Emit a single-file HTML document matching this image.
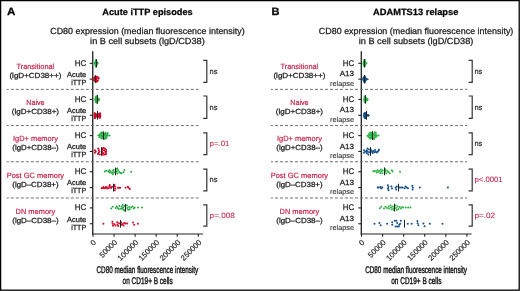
<!DOCTYPE html>
<html><head><meta charset="utf-8"><style>
html,body{margin:0;padding:0;background:#fff;}
#c{position:relative;width:520px;height:291px;overflow:hidden;background:#fff;}
svg{position:absolute;left:0;top:0;will-change:transform;}
text{font-family:"Liberation Sans",sans-serif;text-rendering:geometricPrecision;}
</style></head><body><div id="c">
<svg width="520" height="291" viewBox="0 0 520 291">
<rect x="0.6" y="0.6" width="518.6" height="289.6" fill="none" stroke="#000" stroke-width="1.3"/>
<line x1="92.75" y1="51.2" x2="92.75" y2="234.6" stroke="#222" stroke-width="1.3"/>
<line x1="92.15" y1="234.0" x2="202.95" y2="234.0" stroke="#222" stroke-width="1.2"/>
<line x1="92.95" y1="234" x2="92.95" y2="236.8" stroke="#222" stroke-width="1.1"/>
<line x1="114.03" y1="234" x2="114.03" y2="236.8" stroke="#222" stroke-width="1.1"/>
<line x1="135.11" y1="234" x2="135.11" y2="236.8" stroke="#222" stroke-width="1.1"/>
<line x1="156.19" y1="234" x2="156.19" y2="236.8" stroke="#222" stroke-width="1.1"/>
<line x1="177.27" y1="234" x2="177.27" y2="236.8" stroke="#222" stroke-width="1.1"/>
<line x1="198.35" y1="234" x2="198.35" y2="236.8" stroke="#222" stroke-width="1.1"/>
<line x1="6.80" y1="89.37" x2="198.60" y2="89.37" stroke="#707070" stroke-width="1" stroke-dasharray="3 2" stroke-dashoffset="1"/>
<line x1="6.80" y1="125.57" x2="198.60" y2="125.57" stroke="#707070" stroke-width="1" stroke-dasharray="3 2" stroke-dashoffset="1"/>
<line x1="6.80" y1="161.77" x2="198.60" y2="161.77" stroke="#707070" stroke-width="1" stroke-dasharray="3 2" stroke-dashoffset="1"/>
<line x1="6.80" y1="197.97" x2="198.60" y2="197.97" stroke="#707070" stroke-width="1" stroke-dasharray="3 2" stroke-dashoffset="1"/>
<line x1="89.75" y1="63.30" x2="92.75" y2="63.30" stroke="#222" stroke-width="1.1"/>
<line x1="89.75" y1="79.15" x2="92.75" y2="79.15" stroke="#222" stroke-width="1.1"/>
<line x1="89.75" y1="99.45" x2="92.75" y2="99.45" stroke="#222" stroke-width="1.1"/>
<line x1="89.75" y1="115.30" x2="92.75" y2="115.30" stroke="#222" stroke-width="1.1"/>
<line x1="89.75" y1="135.60" x2="92.75" y2="135.60" stroke="#222" stroke-width="1.1"/>
<line x1="89.75" y1="151.45" x2="92.75" y2="151.45" stroke="#222" stroke-width="1.1"/>
<line x1="89.75" y1="171.75" x2="92.75" y2="171.75" stroke="#222" stroke-width="1.1"/>
<line x1="89.75" y1="187.60" x2="92.75" y2="187.60" stroke="#222" stroke-width="1.1"/>
<line x1="89.75" y1="207.90" x2="92.75" y2="207.90" stroke="#222" stroke-width="1.1"/>
<line x1="89.75" y1="223.75" x2="92.75" y2="223.75" stroke="#222" stroke-width="1.1"/>
<line x1="361.30" y1="51.2" x2="361.30" y2="234.6" stroke="#222" stroke-width="1.3"/>
<line x1="360.70" y1="234.0" x2="471.50" y2="234.0" stroke="#222" stroke-width="1.2"/>
<line x1="361.50" y1="234" x2="361.50" y2="236.8" stroke="#222" stroke-width="1.1"/>
<line x1="382.58" y1="234" x2="382.58" y2="236.8" stroke="#222" stroke-width="1.1"/>
<line x1="403.66" y1="234" x2="403.66" y2="236.8" stroke="#222" stroke-width="1.1"/>
<line x1="424.74" y1="234" x2="424.74" y2="236.8" stroke="#222" stroke-width="1.1"/>
<line x1="445.82" y1="234" x2="445.82" y2="236.8" stroke="#222" stroke-width="1.1"/>
<line x1="466.90" y1="234" x2="466.90" y2="236.8" stroke="#222" stroke-width="1.1"/>
<line x1="271.00" y1="89.37" x2="467.15" y2="89.37" stroke="#707070" stroke-width="1" stroke-dasharray="3 2" stroke-dashoffset="1"/>
<line x1="271.00" y1="125.57" x2="467.15" y2="125.57" stroke="#707070" stroke-width="1" stroke-dasharray="3 2" stroke-dashoffset="1"/>
<line x1="271.00" y1="161.77" x2="467.15" y2="161.77" stroke="#707070" stroke-width="1" stroke-dasharray="3 2" stroke-dashoffset="1"/>
<line x1="271.00" y1="197.97" x2="467.15" y2="197.97" stroke="#707070" stroke-width="1" stroke-dasharray="3 2" stroke-dashoffset="1"/>
<line x1="358.30" y1="63.30" x2="361.30" y2="63.30" stroke="#222" stroke-width="1.1"/>
<line x1="358.30" y1="79.15" x2="361.30" y2="79.15" stroke="#222" stroke-width="1.1"/>
<line x1="358.30" y1="99.45" x2="361.30" y2="99.45" stroke="#222" stroke-width="1.1"/>
<line x1="358.30" y1="115.30" x2="361.30" y2="115.30" stroke="#222" stroke-width="1.1"/>
<line x1="358.30" y1="135.60" x2="361.30" y2="135.60" stroke="#222" stroke-width="1.1"/>
<line x1="358.30" y1="151.45" x2="361.30" y2="151.45" stroke="#222" stroke-width="1.1"/>
<line x1="358.30" y1="171.75" x2="361.30" y2="171.75" stroke="#222" stroke-width="1.1"/>
<line x1="358.30" y1="187.60" x2="361.30" y2="187.60" stroke="#222" stroke-width="1.1"/>
<line x1="358.30" y1="207.90" x2="361.30" y2="207.90" stroke="#222" stroke-width="1.1"/>
<line x1="358.30" y1="223.75" x2="361.30" y2="223.75" stroke="#222" stroke-width="1.1"/>
<path d="M93.80 63.30 L94.60 61.30 L95.20 59.30 L97.00 59.30 L97.40 61.60 L99.00 63.30 L97.40 65.00 L97.00 67.50 L95.20 67.50 L94.60 65.30 Z" fill="#26aa42" fill-opacity="1.0"/>
<line x1="96.50" y1="59.20" x2="96.50" y2="67.40" stroke="#222" stroke-width="1.0"/>
<path d="M92.40 78.15 L93.50 77.15 L94.60 76.05 L95.40 75.35 L96.20 75.65 L97.40 76.05 L98.60 76.75 L99.60 77.65 L99.90 78.55 L99.00 79.35 L98.30 79.75 L98.80 80.65 L98.40 81.75 L97.20 82.25 L96.20 82.95 L95.40 82.95 L94.60 81.95 L93.50 81.05 L92.40 80.35 Z" fill="#cc0a2a" fill-opacity="1.0"/>
<circle cx="97.5" cy="79.05" r="0.55" fill="#fff" fill-opacity="0.8"/>
<line x1="95.50" y1="75.25" x2="95.50" y2="83.05" stroke="#222" stroke-width="1.0"/>
<path d="M94.30 99.45 L94.80 96.95 L95.80 95.45 L97.40 94.95 L97.60 97.55 L99.20 97.95 L100.30 99.55 L99.20 101.15 L97.60 101.55 L97.40 103.65 L95.80 103.45 L94.80 101.95 Z" fill="#26aa42" fill-opacity="1.0"/>
<line x1="97.50" y1="95.15" x2="97.50" y2="103.75" stroke="#222" stroke-width="1.0"/>
<path d="M93.90 112.10 L95.50 112.60 L97.40 114.30 L99.00 112.60 L101.00 112.60 L101.30 115.30 L101.00 118.40 L99.00 118.70 L97.40 116.50 L95.50 118.90 L93.90 119.00 L93.60 115.30 Z" fill="#cc0a2a" fill-opacity="1.0"/>
<line x1="97.50" y1="110.90" x2="97.50" y2="119.70" stroke="#222" stroke-width="1.0"/>
<circle cx="98.31" cy="135.43" r="1.0" fill="#26aa42"/>
<circle cx="99.85" cy="135.39" r="1.0" fill="#26aa42"/>
<circle cx="101.16" cy="135.53" r="1.0" fill="#26aa42"/>
<circle cx="102.29" cy="135.60" r="1.0" fill="#26aa42"/>
<circle cx="103.65" cy="135.57" r="1.0" fill="#26aa42"/>
<circle cx="105.04" cy="135.40" r="1.0" fill="#26aa42"/>
<circle cx="106.59" cy="135.76" r="1.0" fill="#26aa42"/>
<circle cx="107.81" cy="135.46" r="1.0" fill="#26aa42"/>
<circle cx="99.86" cy="134.32" r="1.0" fill="#26aa42"/>
<circle cx="101.32" cy="134.05" r="1.0" fill="#26aa42"/>
<circle cx="103.00" cy="133.87" r="1.0" fill="#26aa42"/>
<circle cx="104.42" cy="133.99" r="1.0" fill="#26aa42"/>
<circle cx="105.54" cy="133.91" r="1.0" fill="#26aa42"/>
<circle cx="107.10" cy="134.26" r="1.0" fill="#26aa42"/>
<circle cx="99.44" cy="137.14" r="1.0" fill="#26aa42"/>
<circle cx="101.11" cy="137.04" r="1.0" fill="#26aa42"/>
<circle cx="102.50" cy="136.88" r="1.0" fill="#26aa42"/>
<circle cx="103.70" cy="136.95" r="1.0" fill="#26aa42"/>
<circle cx="105.45" cy="137.06" r="1.0" fill="#26aa42"/>
<circle cx="106.71" cy="137.14" r="1.0" fill="#26aa42"/>
<circle cx="101.18" cy="132.60" r="1.0" fill="#26aa42"/>
<circle cx="102.75" cy="132.80" r="1.0" fill="#26aa42"/>
<circle cx="105.47" cy="132.74" r="1.0" fill="#26aa42"/>
<circle cx="107.61" cy="132.89" r="1.0" fill="#26aa42"/>
<circle cx="101.51" cy="138.39" r="1.0" fill="#26aa42"/>
<circle cx="103.04" cy="138.31" r="1.0" fill="#26aa42"/>
<circle cx="104.56" cy="138.63" r="1.0" fill="#26aa42"/>
<circle cx="105.83" cy="138.49" r="1.0" fill="#26aa42"/>
<circle cx="109.50" cy="135.40" r="1.0" fill="#26aa42"/>
<line x1="103.50" y1="131.40" x2="103.50" y2="139.80" stroke="#222" stroke-width="1.0"/>
<circle cx="94.90" cy="150.25" r="1.0" fill="#cc0a2a"/>
<circle cx="95.80" cy="151.45" r="1.0" fill="#cc0a2a"/>
<circle cx="94.90" cy="152.65" r="1.0" fill="#cc0a2a"/>
<circle cx="98.20" cy="148.45" r="1.0" fill="#cc0a2a"/>
<circle cx="98.80" cy="150.05" r="1.0" fill="#cc0a2a"/>
<circle cx="99.40" cy="151.45" r="1.0" fill="#cc0a2a"/>
<circle cx="98.60" cy="152.75" r="1.0" fill="#cc0a2a"/>
<circle cx="98.00" cy="154.05" r="1.0" fill="#cc0a2a"/>
<circle cx="99.80" cy="154.45" r="1.0" fill="#cc0a2a"/>
<circle cx="102.20" cy="148.45" r="1.0" fill="#cc0a2a"/>
<circle cx="103.60" cy="148.05" r="1.0" fill="#cc0a2a"/>
<circle cx="105.00" cy="148.65" r="1.0" fill="#cc0a2a"/>
<circle cx="106.00" cy="149.85" r="1.0" fill="#cc0a2a"/>
<circle cx="106.30" cy="151.45" r="1.0" fill="#cc0a2a"/>
<circle cx="105.80" cy="152.95" r="1.0" fill="#cc0a2a"/>
<circle cx="106.00" cy="154.25" r="1.0" fill="#cc0a2a"/>
<circle cx="104.60" cy="154.55" r="1.0" fill="#cc0a2a"/>
<circle cx="103.00" cy="154.65" r="1.0" fill="#cc0a2a"/>
<circle cx="102.00" cy="153.45" r="1.0" fill="#cc0a2a"/>
<circle cx="102.00" cy="151.85" r="1.0" fill="#cc0a2a"/>
<circle cx="102.30" cy="149.95" r="1.0" fill="#cc0a2a"/>
<circle cx="104.00" cy="150.15" r="1.0" fill="#cc0a2a"/>
<circle cx="105.20" cy="151.75" r="1.0" fill="#cc0a2a"/>
<circle cx="103.20" cy="153.05" r="1.0" fill="#cc0a2a"/>
<line x1="101.50" y1="147.15" x2="101.50" y2="155.75" stroke="#222" stroke-width="1.0"/>
<circle cx="104.70" cy="171.55" r="1.0" fill="#26aa42"/>
<circle cx="106.20" cy="170.85" r="1.0" fill="#26aa42"/>
<circle cx="108.30" cy="171.45" r="1.0" fill="#26aa42"/>
<circle cx="109.20" cy="170.25" r="1.0" fill="#26aa42"/>
<circle cx="109.60" cy="172.45" r="1.0" fill="#26aa42"/>
<circle cx="110.60" cy="171.35" r="1.0" fill="#26aa42"/>
<circle cx="112.30" cy="172.65" r="1.0" fill="#26aa42"/>
<circle cx="113.00" cy="170.85" r="1.0" fill="#26aa42"/>
<circle cx="113.00" cy="174.35" r="1.0" fill="#26aa42"/>
<circle cx="114.20" cy="172.35" r="1.0" fill="#26aa42"/>
<circle cx="113.60" cy="170.05" r="1.0" fill="#26aa42"/>
<circle cx="116.40" cy="169.05" r="1.0" fill="#26aa42"/>
<circle cx="116.80" cy="171.35" r="1.0" fill="#26aa42"/>
<circle cx="117.50" cy="173.45" r="1.0" fill="#26aa42"/>
<circle cx="118.20" cy="170.35" r="1.0" fill="#26aa42"/>
<circle cx="119.20" cy="172.05" r="1.0" fill="#26aa42"/>
<circle cx="120.30" cy="172.65" r="1.0" fill="#26aa42"/>
<circle cx="121.60" cy="173.25" r="1.0" fill="#26aa42"/>
<circle cx="123.60" cy="172.35" r="1.0" fill="#26aa42"/>
<circle cx="124.30" cy="170.05" r="1.0" fill="#26aa42"/>
<circle cx="131.10" cy="171.75" r="1.0" fill="#26aa42"/>
<circle cx="111.60" cy="173.05" r="1.0" fill="#26aa42"/>
<circle cx="115.90" cy="172.95" r="1.0" fill="#26aa42"/>
<circle cx="117.20" cy="168.45" r="1.0" fill="#26aa42"/>
<line x1="115.50" y1="167.55" x2="115.50" y2="175.35" stroke="#222" stroke-width="1.0"/>
<circle cx="101.60" cy="188.30" r="1.0" fill="#cc0a2a"/>
<circle cx="102.40" cy="187.90" r="1.0" fill="#cc0a2a"/>
<circle cx="103.40" cy="187.10" r="1.0" fill="#cc0a2a"/>
<circle cx="104.00" cy="188.30" r="1.0" fill="#cc0a2a"/>
<circle cx="105.00" cy="188.30" r="1.0" fill="#cc0a2a"/>
<circle cx="105.80" cy="186.90" r="1.0" fill="#cc0a2a"/>
<circle cx="106.80" cy="187.30" r="1.0" fill="#cc0a2a"/>
<circle cx="107.20" cy="188.50" r="1.0" fill="#cc0a2a"/>
<circle cx="108.60" cy="188.20" r="1.0" fill="#cc0a2a"/>
<circle cx="109.20" cy="186.30" r="1.0" fill="#cc0a2a"/>
<circle cx="109.80" cy="184.90" r="1.0" fill="#cc0a2a"/>
<circle cx="110.20" cy="187.20" r="1.0" fill="#cc0a2a"/>
<circle cx="111.20" cy="188.10" r="1.0" fill="#cc0a2a"/>
<circle cx="112.00" cy="186.70" r="1.0" fill="#cc0a2a"/>
<circle cx="114.50" cy="184.90" r="1.0" fill="#cc0a2a"/>
<circle cx="115.00" cy="186.70" r="1.0" fill="#cc0a2a"/>
<circle cx="115.30" cy="188.50" r="1.0" fill="#cc0a2a"/>
<circle cx="114.80" cy="190.20" r="1.0" fill="#cc0a2a"/>
<circle cx="117.80" cy="187.70" r="1.0" fill="#cc0a2a"/>
<circle cx="119.00" cy="187.70" r="1.0" fill="#cc0a2a"/>
<circle cx="120.20" cy="187.70" r="1.0" fill="#cc0a2a"/>
<circle cx="125.60" cy="187.70" r="1.0" fill="#cc0a2a"/>
<circle cx="127.80" cy="186.70" r="1.0" fill="#cc0a2a"/>
<circle cx="128.60" cy="187.70" r="1.0" fill="#cc0a2a"/>
<circle cx="129.80" cy="188.90" r="1.0" fill="#cc0a2a"/>
<line x1="113.50" y1="183.70" x2="113.50" y2="191.50" stroke="#222" stroke-width="1.0"/>
<circle cx="111.20" cy="208.50" r="1.0" fill="#26aa42"/>
<circle cx="112.60" cy="206.80" r="1.0" fill="#26aa42"/>
<circle cx="115.60" cy="207.90" r="1.0" fill="#26aa42"/>
<circle cx="116.80" cy="206.50" r="1.0" fill="#26aa42"/>
<circle cx="117.60" cy="208.10" r="1.0" fill="#26aa42"/>
<circle cx="118.80" cy="208.90" r="1.0" fill="#26aa42"/>
<circle cx="119.40" cy="206.10" r="1.0" fill="#26aa42"/>
<circle cx="121.60" cy="206.70" r="1.0" fill="#26aa42"/>
<circle cx="122.30" cy="208.70" r="1.0" fill="#26aa42"/>
<circle cx="122.60" cy="205.10" r="1.0" fill="#26aa42"/>
<circle cx="123.20" cy="207.50" r="1.0" fill="#26aa42"/>
<circle cx="123.80" cy="210.00" r="1.0" fill="#26aa42"/>
<circle cx="124.40" cy="206.00" r="1.0" fill="#26aa42"/>
<circle cx="124.60" cy="210.50" r="1.0" fill="#26aa42"/>
<circle cx="127.00" cy="205.50" r="1.0" fill="#26aa42"/>
<circle cx="127.40" cy="207.90" r="1.0" fill="#26aa42"/>
<circle cx="128.20" cy="209.70" r="1.0" fill="#26aa42"/>
<circle cx="129.20" cy="206.90" r="1.0" fill="#26aa42"/>
<circle cx="129.80" cy="209.30" r="1.0" fill="#26aa42"/>
<circle cx="131.20" cy="207.50" r="1.0" fill="#26aa42"/>
<circle cx="132.60" cy="206.50" r="1.0" fill="#26aa42"/>
<circle cx="133.80" cy="208.50" r="1.0" fill="#26aa42"/>
<circle cx="134.60" cy="207.50" r="1.0" fill="#26aa42"/>
<circle cx="138.00" cy="207.60" r="1.0" fill="#26aa42"/>
<circle cx="142.00" cy="207.60" r="1.0" fill="#26aa42"/>
<circle cx="121.00" cy="208.80" r="1.0" fill="#26aa42"/>
<line x1="125.50" y1="204.00" x2="125.50" y2="211.80" stroke="#222" stroke-width="1.0"/>
<circle cx="103.40" cy="223.75" r="1.0" fill="#cc0a2a"/>
<circle cx="112.40" cy="221.75" r="1.0" fill="#cc0a2a"/>
<circle cx="112.60" cy="223.75" r="1.0" fill="#cc0a2a"/>
<circle cx="113.00" cy="225.75" r="1.0" fill="#cc0a2a"/>
<circle cx="114.40" cy="224.25" r="1.0" fill="#cc0a2a"/>
<circle cx="115.60" cy="225.55" r="1.0" fill="#cc0a2a"/>
<circle cx="117.20" cy="222.25" r="1.0" fill="#cc0a2a"/>
<circle cx="117.60" cy="224.55" r="1.0" fill="#cc0a2a"/>
<circle cx="118.20" cy="225.95" r="1.0" fill="#cc0a2a"/>
<circle cx="119.00" cy="223.15" r="1.0" fill="#cc0a2a"/>
<circle cx="121.20" cy="222.55" r="1.0" fill="#cc0a2a"/>
<circle cx="121.60" cy="224.75" r="1.0" fill="#cc0a2a"/>
<circle cx="122.60" cy="223.95" r="1.0" fill="#cc0a2a"/>
<circle cx="123.60" cy="225.55" r="1.0" fill="#cc0a2a"/>
<circle cx="124.20" cy="222.95" r="1.0" fill="#cc0a2a"/>
<circle cx="125.60" cy="223.45" r="1.0" fill="#cc0a2a"/>
<circle cx="127.20" cy="223.45" r="1.0" fill="#cc0a2a"/>
<circle cx="133.00" cy="222.55" r="1.0" fill="#cc0a2a"/>
<circle cx="134.20" cy="224.75" r="1.0" fill="#cc0a2a"/>
<circle cx="137.90" cy="223.75" r="1.0" fill="#cc0a2a"/>
<line x1="120.50" y1="219.85" x2="120.50" y2="227.65" stroke="#222" stroke-width="1.0"/>
<path d="M362.40 63.30 L363.00 61.10 L363.80 59.00 L365.60 59.00 L366.00 61.50 L367.70 63.30 L366.00 65.10 L365.60 67.20 L363.80 67.20 L363.00 65.50 Z" fill="#2fb446" fill-opacity="1.0"/>
<line x1="364.50" y1="59.20" x2="364.50" y2="67.40" stroke="#222" stroke-width="1.0"/>
<path d="M361.90 79.15 L362.80 77.35 L364.00 75.55 L365.50 75.55 L366.30 77.65 L369.10 79.15 L366.30 80.65 L365.50 83.35 L364.00 83.35 L362.80 80.95 Z" fill="#14508c" fill-opacity="1.0"/>
<line x1="364.50" y1="75.05" x2="364.50" y2="83.25" stroke="#222" stroke-width="1.0"/>
<path d="M363.20 99.45 L363.60 96.95 L364.40 95.25 L366.00 95.25 L366.30 97.55 L367.80 97.95 L368.90 99.45 L367.80 101.05 L366.30 101.45 L366.00 103.25 L364.40 103.25 L363.60 101.95 Z" fill="#2fb446" fill-opacity="1.0"/>
<line x1="365.50" y1="95.25" x2="365.50" y2="103.65" stroke="#222" stroke-width="1.0"/>
<path d="M363.00 115.10 L363.40 112.90 L364.60 111.90 L366.00 112.10 L366.40 113.90 L368.60 114.00 L370.00 115.40 L368.60 116.70 L366.40 116.60 L366.00 118.90 L364.60 119.10 L363.40 117.70 Z" fill="#14508c" fill-opacity="1.0"/>
<line x1="366.50" y1="110.90" x2="366.50" y2="119.70" stroke="#222" stroke-width="1.0"/>
<circle cx="367.42" cy="135.67" r="1.0" fill="#2fb446"/>
<circle cx="369.05" cy="135.63" r="1.0" fill="#2fb446"/>
<circle cx="370.44" cy="135.53" r="1.0" fill="#2fb446"/>
<circle cx="371.71" cy="135.64" r="1.0" fill="#2fb446"/>
<circle cx="373.00" cy="135.58" r="1.0" fill="#2fb446"/>
<circle cx="374.45" cy="135.78" r="1.0" fill="#2fb446"/>
<circle cx="375.65" cy="135.67" r="1.0" fill="#2fb446"/>
<circle cx="376.82" cy="135.68" r="1.0" fill="#2fb446"/>
<circle cx="368.86" cy="134.30" r="1.0" fill="#2fb446"/>
<circle cx="370.33" cy="134.01" r="1.0" fill="#2fb446"/>
<circle cx="371.55" cy="134.17" r="1.0" fill="#2fb446"/>
<circle cx="373.01" cy="134.08" r="1.0" fill="#2fb446"/>
<circle cx="374.57" cy="133.95" r="1.0" fill="#2fb446"/>
<circle cx="376.02" cy="134.21" r="1.0" fill="#2fb446"/>
<circle cx="368.45" cy="137.00" r="1.0" fill="#2fb446"/>
<circle cx="370.16" cy="137.25" r="1.0" fill="#2fb446"/>
<circle cx="371.63" cy="137.08" r="1.0" fill="#2fb446"/>
<circle cx="373.02" cy="137.25" r="1.0" fill="#2fb446"/>
<circle cx="374.63" cy="137.25" r="1.0" fill="#2fb446"/>
<circle cx="375.91" cy="137.07" r="1.0" fill="#2fb446"/>
<circle cx="369.74" cy="132.75" r="1.0" fill="#2fb446"/>
<circle cx="371.18" cy="132.46" r="1.0" fill="#2fb446"/>
<circle cx="374.47" cy="132.49" r="1.0" fill="#2fb446"/>
<circle cx="375.69" cy="132.59" r="1.0" fill="#2fb446"/>
<circle cx="370.04" cy="138.51" r="1.0" fill="#2fb446"/>
<circle cx="371.00" cy="138.57" r="1.0" fill="#2fb446"/>
<circle cx="373.95" cy="138.63" r="1.0" fill="#2fb446"/>
<circle cx="374.18" cy="138.68" r="1.0" fill="#2fb446"/>
<circle cx="378.60" cy="135.40" r="1.0" fill="#2fb446"/>
<line x1="372.50" y1="131.20" x2="372.50" y2="140.00" stroke="#222" stroke-width="1.0"/>
<circle cx="364.00" cy="150.25" r="1.0" fill="#14508c"/>
<circle cx="365.20" cy="151.45" r="1.0" fill="#14508c"/>
<circle cx="364.00" cy="152.65" r="1.0" fill="#14508c"/>
<circle cx="366.20" cy="151.65" r="1.0" fill="#14508c"/>
<circle cx="367.50" cy="148.45" r="1.0" fill="#14508c"/>
<circle cx="366.80" cy="150.15" r="1.0" fill="#14508c"/>
<circle cx="367.60" cy="151.75" r="1.0" fill="#14508c"/>
<circle cx="366.80" cy="153.15" r="1.0" fill="#14508c"/>
<circle cx="368.40" cy="154.45" r="1.0" fill="#14508c"/>
<circle cx="369.00" cy="149.45" r="1.0" fill="#14508c"/>
<circle cx="369.20" cy="152.25" r="1.0" fill="#14508c"/>
<circle cx="371.40" cy="150.25" r="1.0" fill="#14508c"/>
<circle cx="372.00" cy="151.85" r="1.0" fill="#14508c"/>
<circle cx="372.60" cy="153.05" r="1.0" fill="#14508c"/>
<circle cx="373.40" cy="151.05" r="1.0" fill="#14508c"/>
<circle cx="374.20" cy="152.25" r="1.0" fill="#14508c"/>
<circle cx="375.00" cy="150.05" r="1.0" fill="#14508c"/>
<circle cx="375.60" cy="151.85" r="1.0" fill="#14508c"/>
<circle cx="376.60" cy="152.45" r="1.0" fill="#14508c"/>
<circle cx="377.60" cy="151.65" r="1.0" fill="#14508c"/>
<circle cx="378.40" cy="150.65" r="1.0" fill="#14508c"/>
<circle cx="379.00" cy="149.85" r="1.0" fill="#14508c"/>
<line x1="370.50" y1="147.05" x2="370.50" y2="155.85" stroke="#222" stroke-width="1.0"/>
<circle cx="373.20" cy="171.35" r="1.0" fill="#2fb446"/>
<circle cx="374.40" cy="171.35" r="1.0" fill="#2fb446"/>
<circle cx="376.00" cy="170.95" r="1.0" fill="#2fb446"/>
<circle cx="376.60" cy="172.55" r="1.0" fill="#2fb446"/>
<circle cx="377.60" cy="170.15" r="1.0" fill="#2fb446"/>
<circle cx="378.40" cy="171.75" r="1.0" fill="#2fb446"/>
<circle cx="379.60" cy="170.95" r="1.0" fill="#2fb446"/>
<circle cx="380.20" cy="172.95" r="1.0" fill="#2fb446"/>
<circle cx="381.00" cy="169.55" r="1.0" fill="#2fb446"/>
<circle cx="381.60" cy="171.55" r="1.0" fill="#2fb446"/>
<circle cx="382.40" cy="173.35" r="1.0" fill="#2fb446"/>
<circle cx="382.60" cy="170.35" r="1.0" fill="#2fb446"/>
<circle cx="385.00" cy="168.95" r="1.0" fill="#2fb446"/>
<circle cx="385.40" cy="171.55" r="1.0" fill="#2fb446"/>
<circle cx="386.20" cy="173.15" r="1.0" fill="#2fb446"/>
<circle cx="386.00" cy="170.35" r="1.0" fill="#2fb446"/>
<circle cx="387.60" cy="171.35" r="1.0" fill="#2fb446"/>
<circle cx="388.60" cy="172.15" r="1.0" fill="#2fb446"/>
<circle cx="389.80" cy="173.15" r="1.0" fill="#2fb446"/>
<circle cx="391.80" cy="170.15" r="1.0" fill="#2fb446"/>
<circle cx="392.60" cy="171.55" r="1.0" fill="#2fb446"/>
<circle cx="400.00" cy="171.65" r="1.0" fill="#2fb446"/>
<line x1="384.50" y1="167.45" x2="384.50" y2="175.25" stroke="#222" stroke-width="1.0"/>
<circle cx="377.70" cy="187.60" r="1.0" fill="#14508c"/>
<circle cx="378.80" cy="187.60" r="1.0" fill="#14508c"/>
<circle cx="380.60" cy="187.00" r="1.0" fill="#14508c"/>
<circle cx="381.20" cy="188.40" r="1.0" fill="#14508c"/>
<circle cx="382.20" cy="187.60" r="1.0" fill="#14508c"/>
<circle cx="387.80" cy="185.20" r="1.0" fill="#14508c"/>
<circle cx="388.40" cy="187.00" r="1.0" fill="#14508c"/>
<circle cx="388.00" cy="188.80" r="1.0" fill="#14508c"/>
<circle cx="388.60" cy="190.20" r="1.0" fill="#14508c"/>
<circle cx="391.40" cy="186.60" r="1.0" fill="#14508c"/>
<circle cx="392.00" cy="188.40" r="1.0" fill="#14508c"/>
<circle cx="395.60" cy="187.80" r="1.0" fill="#14508c"/>
<circle cx="396.20" cy="189.40" r="1.0" fill="#14508c"/>
<circle cx="396.80" cy="186.40" r="1.0" fill="#14508c"/>
<circle cx="399.80" cy="187.60" r="1.0" fill="#14508c"/>
<circle cx="401.20" cy="187.60" r="1.0" fill="#14508c"/>
<circle cx="402.60" cy="187.60" r="1.0" fill="#14508c"/>
<circle cx="404.60" cy="188.20" r="1.0" fill="#14508c"/>
<circle cx="405.60" cy="186.60" r="1.0" fill="#14508c"/>
<circle cx="406.80" cy="187.60" r="1.0" fill="#14508c"/>
<circle cx="408.00" cy="188.20" r="1.0" fill="#14508c"/>
<circle cx="412.40" cy="185.80" r="1.0" fill="#14508c"/>
<circle cx="412.80" cy="187.60" r="1.0" fill="#14508c"/>
<circle cx="412.60" cy="189.40" r="1.0" fill="#14508c"/>
<circle cx="419.80" cy="187.60" r="1.0" fill="#14508c"/>
<circle cx="447.90" cy="187.60" r="1.0" fill="#14508c"/>
<line x1="398.50" y1="183.70" x2="398.50" y2="191.50" stroke="#222" stroke-width="1.0"/>
<circle cx="379.90" cy="208.20" r="1.0" fill="#2fb446"/>
<circle cx="381.20" cy="206.80" r="1.0" fill="#2fb446"/>
<circle cx="384.00" cy="208.40" r="1.0" fill="#2fb446"/>
<circle cx="385.40" cy="206.80" r="1.0" fill="#2fb446"/>
<circle cx="387.00" cy="207.90" r="1.0" fill="#2fb446"/>
<circle cx="388.60" cy="206.60" r="1.0" fill="#2fb446"/>
<circle cx="389.20" cy="208.60" r="1.0" fill="#2fb446"/>
<circle cx="390.60" cy="205.40" r="1.0" fill="#2fb446"/>
<circle cx="391.00" cy="207.60" r="1.0" fill="#2fb446"/>
<circle cx="391.80" cy="209.60" r="1.0" fill="#2fb446"/>
<circle cx="392.80" cy="206.60" r="1.0" fill="#2fb446"/>
<circle cx="393.40" cy="208.60" r="1.0" fill="#2fb446"/>
<circle cx="395.60" cy="205.60" r="1.0" fill="#2fb446"/>
<circle cx="396.00" cy="208.00" r="1.0" fill="#2fb446"/>
<circle cx="396.80" cy="210.00" r="1.0" fill="#2fb446"/>
<circle cx="397.60" cy="206.40" r="1.0" fill="#2fb446"/>
<circle cx="398.40" cy="209.00" r="1.0" fill="#2fb446"/>
<circle cx="399.60" cy="207.00" r="1.0" fill="#2fb446"/>
<circle cx="400.80" cy="208.40" r="1.0" fill="#2fb446"/>
<circle cx="402.00" cy="207.20" r="1.0" fill="#2fb446"/>
<circle cx="403.20" cy="207.60" r="1.0" fill="#2fb446"/>
<circle cx="405.80" cy="207.60" r="1.0" fill="#2fb446"/>
<circle cx="408.20" cy="207.60" r="1.0" fill="#2fb446"/>
<circle cx="410.40" cy="207.60" r="1.0" fill="#2fb446"/>
<circle cx="394.00" cy="210.00" r="1.0" fill="#2fb446"/>
<line x1="394.50" y1="203.70" x2="394.50" y2="211.50" stroke="#222" stroke-width="1.0"/>
<circle cx="374.50" cy="223.75" r="1.0" fill="#14508c"/>
<circle cx="379.40" cy="222.95" r="1.0" fill="#14508c"/>
<circle cx="380.60" cy="225.15" r="1.0" fill="#14508c"/>
<circle cx="387.10" cy="223.75" r="1.0" fill="#14508c"/>
<circle cx="392.20" cy="222.35" r="1.0" fill="#14508c"/>
<circle cx="392.20" cy="224.75" r="1.0" fill="#14508c"/>
<circle cx="394.80" cy="220.85" r="1.0" fill="#14508c"/>
<circle cx="396.40" cy="220.85" r="1.0" fill="#14508c"/>
<circle cx="397.20" cy="222.95" r="1.0" fill="#14508c"/>
<circle cx="395.60" cy="226.55" r="1.0" fill="#14508c"/>
<circle cx="397.20" cy="226.55" r="1.0" fill="#14508c"/>
<circle cx="398.80" cy="226.55" r="1.0" fill="#14508c"/>
<circle cx="400.90" cy="220.85" r="1.0" fill="#14508c"/>
<circle cx="400.20" cy="223.75" r="1.0" fill="#14508c"/>
<circle cx="399.20" cy="224.75" r="1.0" fill="#14508c"/>
<circle cx="407.80" cy="223.75" r="1.0" fill="#14508c"/>
<circle cx="411.70" cy="223.75" r="1.0" fill="#14508c"/>
<circle cx="417.40" cy="220.95" r="1.0" fill="#14508c"/>
<circle cx="417.60" cy="223.25" r="1.0" fill="#14508c"/>
<circle cx="418.40" cy="225.15" r="1.0" fill="#14508c"/>
<circle cx="423.40" cy="223.55" r="1.0" fill="#14508c"/>
<circle cx="424.60" cy="226.35" r="1.0" fill="#14508c"/>
<circle cx="429.80" cy="223.75" r="1.0" fill="#14508c"/>
<circle cx="442.50" cy="223.75" r="1.0" fill="#14508c"/>
<line x1="404.50" y1="219.85" x2="404.50" y2="227.65" stroke="#222" stroke-width="1.0"/>
<text x="7.00" y="14.60" font-size="10.6" text-anchor="start" font-weight="bold" fill="#000" stroke="#000" stroke-width="0.25" textLength="8.40" lengthAdjust="spacingAndGlyphs">A</text>
<text x="271.60" y="14.90" font-size="10.6" text-anchor="start" font-weight="bold" fill="#000" stroke="#000" stroke-width="0.25" textLength="8.00" lengthAdjust="spacingAndGlyphs">B</text>
<text x="102.30" y="14.60" font-size="9.1" text-anchor="start" font-weight="bold" fill="#000" stroke="#000" stroke-width="0.25" textLength="90.40" lengthAdjust="spacingAndGlyphs">Acute iTTP episodes</text>
<text x="373.00" y="14.90" font-size="9.1" text-anchor="start" font-weight="bold" fill="#000" stroke="#000" stroke-width="0.25" textLength="85.40" lengthAdjust="spacingAndGlyphs">ADAMTS13 relapse</text>
<text x="50.20" y="33.70" font-size="8.8" text-anchor="start" font-weight="normal" fill="#1a1a1a" stroke="#1a1a1a" stroke-width="0.25" textLength="194.50" lengthAdjust="spacingAndGlyphs">CD80 expression (median fluorescence intensity)</text>
<text x="90.10" y="44.20" font-size="8.8" text-anchor="start" font-weight="normal" fill="#1a1a1a" stroke="#1a1a1a" stroke-width="0.25" textLength="114.60" lengthAdjust="spacingAndGlyphs">in B cell subsets (lgD/CD38)</text>
<text x="96.50" y="272.70" font-size="9.6" text-anchor="start" font-weight="normal" fill="#1a1a1a" stroke="#1a1a1a" stroke-width="0.45" textLength="101.80" lengthAdjust="spacingAndGlyphs">CD80 median fluorescence intensity</text>
<text x="122.60" y="283.60" font-size="9.6" text-anchor="start" font-weight="normal" fill="#1a1a1a" stroke="#1a1a1a" stroke-width="0.45" textLength="50.20" lengthAdjust="spacingAndGlyphs">on CD19+ B cells</text>
<text x="318.85" y="33.70" font-size="8.8" text-anchor="start" font-weight="normal" fill="#1a1a1a" stroke="#1a1a1a" stroke-width="0.25" textLength="194.50" lengthAdjust="spacingAndGlyphs">CD80 expression (median fluorescence intensity)</text>
<text x="358.75" y="44.20" font-size="8.8" text-anchor="start" font-weight="normal" fill="#1a1a1a" stroke="#1a1a1a" stroke-width="0.25" textLength="114.60" lengthAdjust="spacingAndGlyphs">in B cell subsets (lgD/CD38)</text>
<text x="365.15" y="272.70" font-size="9.6" text-anchor="start" font-weight="normal" fill="#1a1a1a" stroke="#1a1a1a" stroke-width="0.45" textLength="101.80" lengthAdjust="spacingAndGlyphs">CD80 median fluorescence intensity</text>
<text x="391.25" y="283.60" font-size="9.6" text-anchor="start" font-weight="normal" fill="#1a1a1a" stroke="#1a1a1a" stroke-width="0.45" textLength="50.20" lengthAdjust="spacingAndGlyphs">on CD19+ B cells</text>
<text x="35.40" y="69.05" font-size="7.6" text-anchor="middle" font-weight="normal" fill="#c41c44" stroke="#c41c44" stroke-width="0.18" textLength="37.70" lengthAdjust="spacingAndGlyphs">Transitional</text>
<text x="35.40" y="78.10" font-size="7.4" text-anchor="middle" font-weight="normal" fill="#1a1a1a" stroke="#1a1a1a" stroke-width="0.25" textLength="51.95" lengthAdjust="spacingAndGlyphs">(lgD+CD38++)</text>
<text x="299.40" y="69.05" font-size="7.6" text-anchor="middle" font-weight="normal" fill="#c41c44" stroke="#c41c44" stroke-width="0.18" textLength="37.70" lengthAdjust="spacingAndGlyphs">Transitional</text>
<text x="299.40" y="78.10" font-size="7.4" text-anchor="middle" font-weight="normal" fill="#1a1a1a" stroke="#1a1a1a" stroke-width="0.25" textLength="51.95" lengthAdjust="spacingAndGlyphs">(lgD+CD38++)</text>
<text x="86.20" y="65.50" font-size="8.3" text-anchor="end" font-weight="normal" fill="#1a1a1a" stroke="#1a1a1a" stroke-width="0.25" textLength="11.40" lengthAdjust="spacingAndGlyphs">HC</text>
<text x="86.20" y="76.90" font-size="7.4" text-anchor="end" font-weight="normal" fill="#1a1a1a" stroke="#1a1a1a" stroke-width="0.25" textLength="19.10" lengthAdjust="spacingAndGlyphs">Acute</text>
<text x="86.20" y="85.00" font-size="7.4" text-anchor="end" font-weight="normal" fill="#1a1a1a" stroke="#1a1a1a" stroke-width="0.25" textLength="15.00" lengthAdjust="spacingAndGlyphs">iTTP</text>
<text x="354.00" y="65.60" font-size="8.3" text-anchor="end" font-weight="normal" fill="#1a1a1a" stroke="#1a1a1a" stroke-width="0.25" textLength="11.20" lengthAdjust="spacingAndGlyphs">HC</text>
<text x="354.00" y="76.30" font-size="7.4" text-anchor="end" font-weight="normal" fill="#1a1a1a" stroke="#1a1a1a" stroke-width="0.25" textLength="14.30" lengthAdjust="spacingAndGlyphs">A13</text>
<text x="354.00" y="85.60" font-size="7.2" text-anchor="end" font-weight="normal" fill="#333" stroke="#333" stroke-width="0.1" textLength="24.00" lengthAdjust="spacingAndGlyphs">relapse</text>
<text x="35.40" y="105.20" font-size="7.6" text-anchor="middle" font-weight="normal" fill="#c41c44" stroke="#c41c44" stroke-width="0.18" textLength="18.35" lengthAdjust="spacingAndGlyphs">Naive</text>
<text x="35.40" y="114.25" font-size="7.4" text-anchor="middle" font-weight="normal" fill="#1a1a1a" stroke="#1a1a1a" stroke-width="0.25" textLength="47.30" lengthAdjust="spacingAndGlyphs">(lgD+CD38+)</text>
<text x="299.40" y="105.20" font-size="7.6" text-anchor="middle" font-weight="normal" fill="#c41c44" stroke="#c41c44" stroke-width="0.18" textLength="18.35" lengthAdjust="spacingAndGlyphs">Naive</text>
<text x="299.40" y="114.25" font-size="7.4" text-anchor="middle" font-weight="normal" fill="#1a1a1a" stroke="#1a1a1a" stroke-width="0.25" textLength="47.30" lengthAdjust="spacingAndGlyphs">(lgD+CD38+)</text>
<text x="86.20" y="101.65" font-size="8.3" text-anchor="end" font-weight="normal" fill="#1a1a1a" stroke="#1a1a1a" stroke-width="0.25" textLength="11.40" lengthAdjust="spacingAndGlyphs">HC</text>
<text x="86.20" y="113.05" font-size="7.4" text-anchor="end" font-weight="normal" fill="#1a1a1a" stroke="#1a1a1a" stroke-width="0.25" textLength="19.10" lengthAdjust="spacingAndGlyphs">Acute</text>
<text x="86.20" y="121.15" font-size="7.4" text-anchor="end" font-weight="normal" fill="#1a1a1a" stroke="#1a1a1a" stroke-width="0.25" textLength="15.00" lengthAdjust="spacingAndGlyphs">iTTP</text>
<text x="354.00" y="101.75" font-size="8.3" text-anchor="end" font-weight="normal" fill="#1a1a1a" stroke="#1a1a1a" stroke-width="0.25" textLength="11.20" lengthAdjust="spacingAndGlyphs">HC</text>
<text x="354.00" y="112.45" font-size="7.4" text-anchor="end" font-weight="normal" fill="#1a1a1a" stroke="#1a1a1a" stroke-width="0.25" textLength="14.30" lengthAdjust="spacingAndGlyphs">A13</text>
<text x="354.00" y="121.75" font-size="7.2" text-anchor="end" font-weight="normal" fill="#333" stroke="#333" stroke-width="0.1" textLength="24.00" lengthAdjust="spacingAndGlyphs">relapse</text>
<text x="35.40" y="141.35" font-size="7.6" text-anchor="middle" font-weight="normal" fill="#c41c44" stroke="#c41c44" stroke-width="0.18" textLength="44.95" lengthAdjust="spacingAndGlyphs">IgD+ memory</text>
<text x="35.40" y="150.40" font-size="7.4" text-anchor="middle" font-weight="normal" fill="#1a1a1a" stroke="#1a1a1a" stroke-width="0.25" textLength="46.30" lengthAdjust="spacingAndGlyphs">(lgD+CD38&#8211;)</text>
<text x="299.40" y="141.35" font-size="7.6" text-anchor="middle" font-weight="normal" fill="#c41c44" stroke="#c41c44" stroke-width="0.18" textLength="44.95" lengthAdjust="spacingAndGlyphs">IgD+ memory</text>
<text x="299.40" y="150.40" font-size="7.4" text-anchor="middle" font-weight="normal" fill="#1a1a1a" stroke="#1a1a1a" stroke-width="0.25" textLength="46.30" lengthAdjust="spacingAndGlyphs">(lgD+CD38&#8211;)</text>
<text x="86.20" y="137.80" font-size="8.3" text-anchor="end" font-weight="normal" fill="#1a1a1a" stroke="#1a1a1a" stroke-width="0.25" textLength="11.40" lengthAdjust="spacingAndGlyphs">HC</text>
<text x="86.20" y="149.20" font-size="7.4" text-anchor="end" font-weight="normal" fill="#1a1a1a" stroke="#1a1a1a" stroke-width="0.25" textLength="19.10" lengthAdjust="spacingAndGlyphs">Acute</text>
<text x="86.20" y="157.30" font-size="7.4" text-anchor="end" font-weight="normal" fill="#1a1a1a" stroke="#1a1a1a" stroke-width="0.25" textLength="15.00" lengthAdjust="spacingAndGlyphs">iTTP</text>
<text x="354.00" y="137.90" font-size="8.3" text-anchor="end" font-weight="normal" fill="#1a1a1a" stroke="#1a1a1a" stroke-width="0.25" textLength="11.20" lengthAdjust="spacingAndGlyphs">HC</text>
<text x="354.00" y="148.60" font-size="7.4" text-anchor="end" font-weight="normal" fill="#1a1a1a" stroke="#1a1a1a" stroke-width="0.25" textLength="14.30" lengthAdjust="spacingAndGlyphs">A13</text>
<text x="354.00" y="157.90" font-size="7.2" text-anchor="end" font-weight="normal" fill="#333" stroke="#333" stroke-width="0.1" textLength="24.00" lengthAdjust="spacingAndGlyphs">relapse</text>
<text x="35.40" y="177.50" font-size="7.6" text-anchor="middle" font-weight="normal" fill="#c41c44" stroke="#c41c44" stroke-width="0.18" textLength="57.45" lengthAdjust="spacingAndGlyphs">Post GC memory</text>
<text x="35.40" y="186.55" font-size="7.4" text-anchor="middle" font-weight="normal" fill="#1a1a1a" stroke="#1a1a1a" stroke-width="0.25" textLength="46.30" lengthAdjust="spacingAndGlyphs">(lgD&#8211;CD38+)</text>
<text x="299.40" y="177.50" font-size="7.6" text-anchor="middle" font-weight="normal" fill="#c41c44" stroke="#c41c44" stroke-width="0.18" textLength="57.45" lengthAdjust="spacingAndGlyphs">Post GC memory</text>
<text x="299.40" y="186.55" font-size="7.4" text-anchor="middle" font-weight="normal" fill="#1a1a1a" stroke="#1a1a1a" stroke-width="0.25" textLength="46.30" lengthAdjust="spacingAndGlyphs">(lgD&#8211;CD38+)</text>
<text x="86.20" y="173.95" font-size="8.3" text-anchor="end" font-weight="normal" fill="#1a1a1a" stroke="#1a1a1a" stroke-width="0.25" textLength="11.40" lengthAdjust="spacingAndGlyphs">HC</text>
<text x="86.20" y="185.35" font-size="7.4" text-anchor="end" font-weight="normal" fill="#1a1a1a" stroke="#1a1a1a" stroke-width="0.25" textLength="19.10" lengthAdjust="spacingAndGlyphs">Acute</text>
<text x="86.20" y="193.45" font-size="7.4" text-anchor="end" font-weight="normal" fill="#1a1a1a" stroke="#1a1a1a" stroke-width="0.25" textLength="15.00" lengthAdjust="spacingAndGlyphs">iTTP</text>
<text x="354.00" y="174.05" font-size="8.3" text-anchor="end" font-weight="normal" fill="#1a1a1a" stroke="#1a1a1a" stroke-width="0.25" textLength="11.20" lengthAdjust="spacingAndGlyphs">HC</text>
<text x="354.00" y="184.75" font-size="7.4" text-anchor="end" font-weight="normal" fill="#1a1a1a" stroke="#1a1a1a" stroke-width="0.25" textLength="14.30" lengthAdjust="spacingAndGlyphs">A13</text>
<text x="354.00" y="194.05" font-size="7.2" text-anchor="end" font-weight="normal" fill="#333" stroke="#333" stroke-width="0.1" textLength="24.00" lengthAdjust="spacingAndGlyphs">relapse</text>
<text x="35.40" y="213.65" font-size="7.6" text-anchor="middle" font-weight="normal" fill="#c41c44" stroke="#c41c44" stroke-width="0.18" textLength="39.70" lengthAdjust="spacingAndGlyphs">DN memory</text>
<text x="35.40" y="222.70" font-size="7.4" text-anchor="middle" font-weight="normal" fill="#1a1a1a" stroke="#1a1a1a" stroke-width="0.25" textLength="46.30" lengthAdjust="spacingAndGlyphs">(lgD&#8211;CD38&#8211;)</text>
<text x="299.40" y="213.65" font-size="7.6" text-anchor="middle" font-weight="normal" fill="#c41c44" stroke="#c41c44" stroke-width="0.18" textLength="39.70" lengthAdjust="spacingAndGlyphs">DN memory</text>
<text x="299.40" y="222.70" font-size="7.4" text-anchor="middle" font-weight="normal" fill="#1a1a1a" stroke="#1a1a1a" stroke-width="0.25" textLength="46.30" lengthAdjust="spacingAndGlyphs">(lgD&#8211;CD38&#8211;)</text>
<text x="86.20" y="210.10" font-size="8.3" text-anchor="end" font-weight="normal" fill="#1a1a1a" stroke="#1a1a1a" stroke-width="0.25" textLength="11.40" lengthAdjust="spacingAndGlyphs">HC</text>
<text x="86.20" y="221.50" font-size="7.4" text-anchor="end" font-weight="normal" fill="#1a1a1a" stroke="#1a1a1a" stroke-width="0.25" textLength="19.10" lengthAdjust="spacingAndGlyphs">Acute</text>
<text x="86.20" y="229.60" font-size="7.4" text-anchor="end" font-weight="normal" fill="#1a1a1a" stroke="#1a1a1a" stroke-width="0.25" textLength="15.00" lengthAdjust="spacingAndGlyphs">iTTP</text>
<text x="354.00" y="210.20" font-size="8.3" text-anchor="end" font-weight="normal" fill="#1a1a1a" stroke="#1a1a1a" stroke-width="0.25" textLength="11.20" lengthAdjust="spacingAndGlyphs">HC</text>
<text x="354.00" y="220.90" font-size="7.4" text-anchor="end" font-weight="normal" fill="#1a1a1a" stroke="#1a1a1a" stroke-width="0.25" textLength="14.30" lengthAdjust="spacingAndGlyphs">A13</text>
<text x="354.00" y="230.20" font-size="7.2" text-anchor="end" font-weight="normal" fill="#333" stroke="#333" stroke-width="0.1" textLength="24.00" lengthAdjust="spacingAndGlyphs">relapse</text>
<text x="96.60" y="243.00" font-size="7.7" text-anchor="end" font-weight="normal" fill="#1a1a1a" stroke="#1a1a1a" stroke-width="0.15" transform="rotate(-45 96.60 243.00)">0</text>
<text x="117.68" y="243.00" font-size="7.7" text-anchor="end" font-weight="normal" fill="#1a1a1a" stroke="#1a1a1a" stroke-width="0.15" transform="rotate(-45 117.68 243.00)">50000</text>
<text x="138.76" y="243.00" font-size="7.7" text-anchor="end" font-weight="normal" fill="#1a1a1a" stroke="#1a1a1a" stroke-width="0.15" transform="rotate(-45 138.76 243.00)">100000</text>
<text x="159.84" y="243.00" font-size="7.7" text-anchor="end" font-weight="normal" fill="#1a1a1a" stroke="#1a1a1a" stroke-width="0.15" transform="rotate(-45 159.84 243.00)">150000</text>
<text x="180.92" y="243.00" font-size="7.7" text-anchor="end" font-weight="normal" fill="#1a1a1a" stroke="#1a1a1a" stroke-width="0.15" transform="rotate(-45 180.92 243.00)">200000</text>
<text x="202.00" y="243.00" font-size="7.7" text-anchor="end" font-weight="normal" fill="#1a1a1a" stroke="#1a1a1a" stroke-width="0.15" transform="rotate(-45 202.00 243.00)">250000</text>
<text x="365.15" y="243.00" font-size="7.7" text-anchor="end" font-weight="normal" fill="#1a1a1a" stroke="#1a1a1a" stroke-width="0.15" transform="rotate(-45 365.15 243.00)">0</text>
<text x="386.23" y="243.00" font-size="7.7" text-anchor="end" font-weight="normal" fill="#1a1a1a" stroke="#1a1a1a" stroke-width="0.15" transform="rotate(-45 386.23 243.00)">50000</text>
<text x="407.31" y="243.00" font-size="7.7" text-anchor="end" font-weight="normal" fill="#1a1a1a" stroke="#1a1a1a" stroke-width="0.15" transform="rotate(-45 407.31 243.00)">100000</text>
<text x="428.39" y="243.00" font-size="7.7" text-anchor="end" font-weight="normal" fill="#1a1a1a" stroke="#1a1a1a" stroke-width="0.15" transform="rotate(-45 428.39 243.00)">150000</text>
<text x="449.47" y="243.00" font-size="7.7" text-anchor="end" font-weight="normal" fill="#1a1a1a" stroke="#1a1a1a" stroke-width="0.15" transform="rotate(-45 449.47 243.00)">200000</text>
<text x="470.55" y="243.00" font-size="7.7" text-anchor="end" font-weight="normal" fill="#1a1a1a" stroke="#1a1a1a" stroke-width="0.15" transform="rotate(-45 470.55 243.00)">250000</text>
<path d="M203.20 60.30 H206.80 V82.30 H203.20" fill="none" stroke="#333" stroke-width="1.2"/>
<text x="209.60" y="74.00" font-size="7.7" text-anchor="start" font-weight="normal" fill="#1a1a1a" stroke="#1a1a1a" stroke-width="0.15" textLength="7.90" lengthAdjust="spacingAndGlyphs">ns</text>
<path d="M468.60 60.30 H472.20 V82.30 H468.60" fill="none" stroke="#333" stroke-width="1.2"/>
<text x="474.40" y="74.00" font-size="7.7" text-anchor="start" font-weight="normal" fill="#1a1a1a" stroke="#1a1a1a" stroke-width="0.15" textLength="7.90" lengthAdjust="spacingAndGlyphs">ns</text>
<path d="M203.20 96.00 H206.80 V118.40 H203.20" fill="none" stroke="#333" stroke-width="1.2"/>
<text x="209.60" y="110.00" font-size="7.7" text-anchor="start" font-weight="normal" fill="#1a1a1a" stroke="#1a1a1a" stroke-width="0.15" textLength="7.90" lengthAdjust="spacingAndGlyphs">ns</text>
<path d="M468.60 96.00 H472.20 V118.40 H468.60" fill="none" stroke="#333" stroke-width="1.2"/>
<text x="474.40" y="110.00" font-size="7.7" text-anchor="start" font-weight="normal" fill="#1a1a1a" stroke="#1a1a1a" stroke-width="0.15" textLength="7.90" lengthAdjust="spacingAndGlyphs">ns</text>
<path d="M203.20 132.90 H206.80 V154.60 H203.20" fill="none" stroke="#333" stroke-width="1.2"/>
<text x="209.60" y="146.00" font-size="7.7" text-anchor="start" font-weight="normal" fill="#c41c44" stroke="#c41c44" stroke-width="0.05" textLength="19.80" lengthAdjust="spacingAndGlyphs">p=.01</text>
<path d="M468.60 132.90 H472.20 V154.60 H468.60" fill="none" stroke="#333" stroke-width="1.2"/>
<text x="474.40" y="146.00" font-size="7.7" text-anchor="start" font-weight="normal" fill="#1a1a1a" stroke="#1a1a1a" stroke-width="0.15" textLength="7.90" lengthAdjust="spacingAndGlyphs">ns</text>
<path d="M203.20 169.10 H206.80 V190.90 H203.20" fill="none" stroke="#333" stroke-width="1.2"/>
<text x="209.60" y="182.00" font-size="7.7" text-anchor="start" font-weight="normal" fill="#1a1a1a" stroke="#1a1a1a" stroke-width="0.15" textLength="7.90" lengthAdjust="spacingAndGlyphs">ns</text>
<path d="M468.60 169.10 H472.20 V190.90 H468.60" fill="none" stroke="#333" stroke-width="1.2"/>
<text x="474.40" y="182.00" font-size="7.7" text-anchor="start" font-weight="normal" fill="#c41c44" stroke="#c41c44" stroke-width="0.05" textLength="28.30" lengthAdjust="spacingAndGlyphs">p&lt;.0001</text>
<path d="M203.20 204.90 H206.80 V226.20 H203.20" fill="none" stroke="#333" stroke-width="1.2"/>
<text x="209.60" y="218.00" font-size="7.7" text-anchor="start" font-weight="normal" fill="#c41c44" stroke="#c41c44" stroke-width="0.05" textLength="25.20" lengthAdjust="spacingAndGlyphs">p=.008</text>
<path d="M468.60 204.90 H472.20 V226.20 H468.60" fill="none" stroke="#333" stroke-width="1.2"/>
<text x="474.40" y="218.00" font-size="7.7" text-anchor="start" font-weight="normal" fill="#c41c44" stroke="#c41c44" stroke-width="0.05" textLength="20.80" lengthAdjust="spacingAndGlyphs">p=.02</text>
</svg></div></body></html>
